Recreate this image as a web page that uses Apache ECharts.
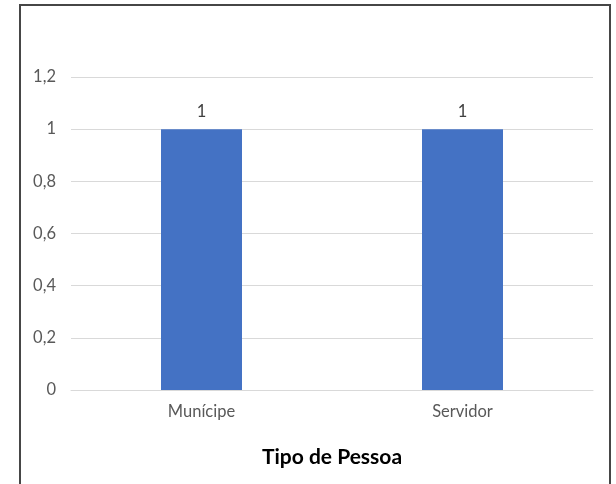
<!DOCTYPE html>
<html>
<head>
<meta charset="utf-8">
<script src="https://cdn.jsdelivr.net/npm/echarts@6/dist/echarts.min.js"></script>
<style>
  html, body { margin: 0; padding: 0; background: #fff; }
  #chart { width: 616px; height: 484px; }
</style>
</head>
<body>
<div id="chart"></div>
<script>
  /* data */
  var categories = ['Munícipe', 'Servidor'];
  var values = [1, 1];
  var yMax = 1.2;
  var yStep = 0.2;

  var chart = echarts.init(document.getElementById('chart'));
  var option = {
    animation: false,
    textStyle: { fontFamily: 'Lato, "Open Sans", sans-serif' },
    graphic: [{
      type: 'rect',
      shape: { x: 20, y: 5, width: 590, height: 500 },
      style: { fill: 'none', stroke: '#464646', lineWidth: 2 },
      silent: true
    }],
    grid: { left: 71, right: 23, top: 77, bottom: 94 },
    xAxis: {
      type: 'category',
      data: categories,
      axisTick: { show: false },
      axisLine: { lineStyle: { color: '#d9d9d9', width: 1 } },
      axisLabel: { color: '#595959', fontSize: 16.5, margin: 13 },
      name: 'Tipo de Pessoa',
      nameLocation: 'middle',
      nameGap: 57,
      nameTextStyle: { color: '#000', fontSize: 21, fontWeight: 'bold' }
    },
    yAxis: {
      type: 'value',
      min: 0,
      max: yMax,
      interval: yStep,
      axisLine: { show: false },
      axisTick: { show: false },
      splitLine: { lineStyle: { color: '#d9d9d9', width: 1 } },
      axisLabel: {
        color: '#595959',
        fontSize: 16.5,
        margin: 15,
        formatter: function (v) { return String(+v.toFixed(1)).replace('.', ','); }
      }
    },
    series: [{
      type: 'bar',
      data: values,
      barWidth: 81,
      itemStyle: { color: '#4472c4' },
      label: {
        show: true,
        position: 'top',
        distance: 9,
        color: '#404040',
        fontSize: 16.5
      }
    }]
  };
  chart.setOption(option);
</script>
</body>
</html>
